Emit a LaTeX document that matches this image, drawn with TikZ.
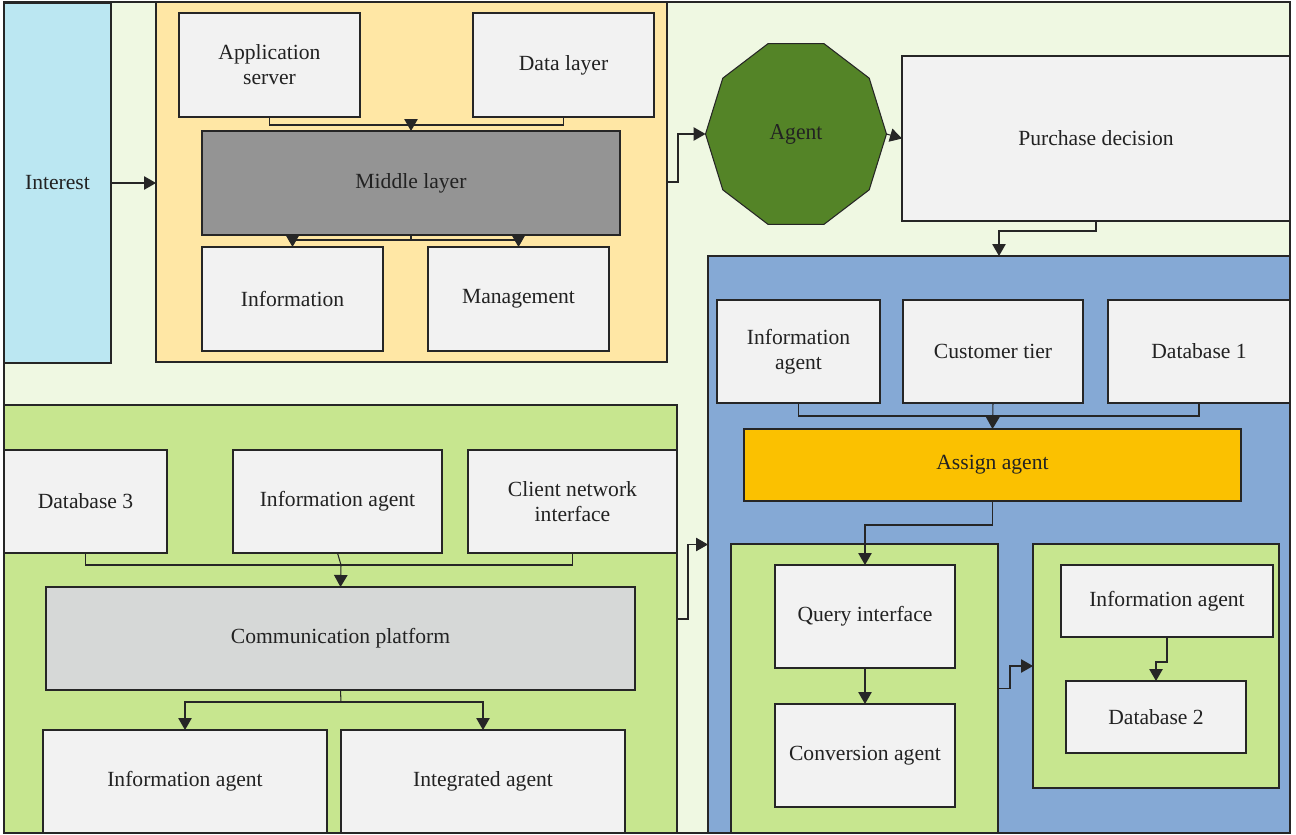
\documentclass[tikz,border=0pt]{standalone}
\usepackage{fontspec}
\setmainfont{Liberation Serif}
\usetikzlibrary{arrows.meta,shapes.geometric}
\definecolor{bgc}{HTML}{EFF8E2}
\definecolor{intc}{HTML}{BBE7F2}
\definecolor{yelc}{HTML}{FFE7A5}
\definecolor{boxc}{HTML}{F2F2F2}
\definecolor{midc}{HTML}{949494}
\definecolor{agc}{HTML}{548427}
\definecolor{bluc}{HTML}{85A9D5}
\definecolor{asgc}{HTML}{FBC100}
\definecolor{grnc}{HTML}{C7E68F}
\definecolor{comc}{HTML}{D6D8D7}
\definecolor{linec}{HTML}{262626}
\definecolor{txtc}{HTML}{222222}
\newcommand{\bx}[7]{\node[#1, minimum width={(#5-#3)*0.02cm}, minimum height={(#6-#4)*0.02cm}] (#2) at ({(#3+#5)/2},{(#4+#6)/2}) {#7};}
\begin{document}
\begin{tikzpicture}[x=0.02cm,y=-0.02cm,
  every node/.style={inner sep=0pt, outer sep=0pt, text=txtc, align=center, font=\fontsize{12.3}{14.2}\selectfont},
  base/.style={draw=linec, line width=0.6pt},
  wbox/.style={base, fill=boxc},
  arr/.style={draw=linec, line width=0.6pt, -{Triangle[width=0.27cm,length=0.24cm]}},
  ln/.style={draw=linec, line width=0.6pt}]
\useasboundingbox (0,0) rectangle (1296,835);
% background
\bx{base, fill=bgc}{bg}{4}{2}{1290}{833}{}
% containers
\bx{base, fill=intc}{interest}{4}{3}{111}{363}{Interest}
\bx{base, fill=yelc}{yellow}{156}{2}{667}{362}{}
\bx{base, fill=grnc}{greenC}{4}{405}{677}{833}{}
\bx{base, fill=bluc}{blue}{708}{256}{1290}{833}{}
\bx{base, fill=grnc}{gA}{731}{544}{998}{833}{}
\bx{base, fill=grnc}{gB}{1033}{544}{1279}{788}{}
% yellow area
\bx{wbox}{appserver}{179}{13}{360}{117}{Application\\server}
\bx{wbox}{datalayer}{473}{13}{654}{117}{Data layer}
\bx{base, fill=midc}{middle}{202}{131}{620}{235}{Middle layer}
\bx{wbox}{info}{202}{247}{383}{351}{Information}
\bx{wbox}{mgmt}{428}{247}{609}{351}{Management}
% agent and purchase
\node[base, fill=agc, regular polygon, regular polygon sides=10, minimum size=3.62cm, yscale=1.05] (agent) at (796,134) {Agent};
\bx{wbox}{purchase}{902}{56}{1290}{221}{Purchase decision}
% blue area
\bx{wbox}{infoB}{717}{300}{880}{403}{Information\\agent}
\bx{wbox}{customer}{903}{300}{1083}{403}{Customer tier}
\bx{wbox}{dbone}{1108}{300}{1290}{403}{Database 1}
\bx{base, fill=asgc}{assign}{744}{429}{1241}{501}{Assign agent}
\bx{wbox}{query}{775}{565}{955}{668}{Query interface}
\bx{wbox}{conv}{775}{704}{955}{807}{Conversion agent}
\bx{wbox}{infoR}{1061}{565}{1273}{637}{Information agent}
\bx{wbox}{dbtwo}{1066}{681}{1246}{753}{Database 2}
% green area
\bx{wbox}{dbthree}{4}{450}{167}{553}{Database 3}
\bx{wbox}{infoC}{233}{450}{442}{553}{Information agent}
\bx{wbox}{client}{468}{450}{677}{553}{Client network\\interface}
\bx{base, fill=comc}{comm}{46}{587}{635}{690}{Communication platform}
\bx{wbox}{infoD}{43}{730}{327}{833}{Information agent}
\bx{wbox}{integ}{341}{730}{625}{833}{Integrated agent}
% connectors
\draw[arr] (interest.east) -- (interest.east -| yellow.west);
\coordinate (j1) at (411,125);
\draw[ln] (appserver.south) |- (j1) -| (datalayer.south);
\draw[arr] (j1) -- (middle.north);
\coordinate (j2) at (411,240);
\draw[ln] (middle.south) -- (j2);
\draw[arr] (j2) -| (info.north);
\draw[arr] (j2) -| (mgmt.north);
\draw[arr] (yellow.east) -- ++(11,0) |- (agent.west);
\draw[arr] (agent.east) -- (purchase.west);
\draw[arr] (purchase.south) -- ++(0,10) -| (blue.north);
\coordinate (j3) at (993,416);
\draw[ln] (infoB.south) |- (j3) -| (dbone.south);
\draw[arr] (customer.south) -- (assign.north);
\draw[arr] (assign.south) -- ++(0,24) -| (query.north);
\draw[arr] (query.south) -- (conv.north);
\draw[arr] (gA.east) -- ++(12,0) |- (gB.west);
\draw[arr] (infoR.south) -- ++(0,25) -| (dbtwo.north);
\coordinate (j4) at (341,565);
\draw[ln] (dbthree.south) |- (j4) -| (client.south);
\draw[ln] (infoC.south) -- (j4);
\draw[arr] (j4) -- (comm.north);
\coordinate (j5) at (341,702);
\draw[ln] (comm.south) -- (j5);
\draw[arr] (j5) -| (infoD.north);
\draw[arr] (j5) -| (integ.north);
\draw[arr] (greenC.east) -- ++(11,0) |- (blue.west);
\end{tikzpicture}
\end{document}
